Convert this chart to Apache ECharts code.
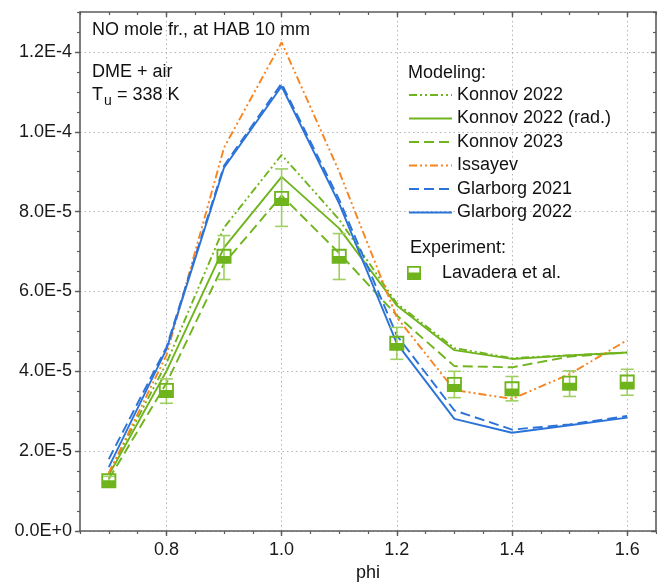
<!DOCTYPE html>
<html>
<head>
<meta charset="utf-8">
<script src="https://cdn.jsdelivr.net/npm/echarts@6/dist/echarts.min.js"></script>
<style>
html,body{margin:0;padding:0;background:#fff;}
#chart{width:657px;height:587px;}
</style>
</head>
<body>
<div id="chart"></div>
<script>
// ---- data ----
const phi = [0.7, 0.8, 0.9, 1.0, 1.1, 1.2, 1.3, 1.4, 1.5, 1.6];
const konnov2022    = [1.45e-5, 4.2e-5, 7.6e-5, 9.42e-5, 7.8e-5, 5.7e-5, 4.58e-5, 4.33e-5, 4.4e-5, 4.47e-5];
const konnov2022rad = [1.4e-5, 4.0e-5, 7.1e-5, 8.87e-5, 7.58e-5, 5.65e-5, 4.53e-5, 4.31e-5, 4.4e-5, 4.47e-5];
const konnov2023    = [1.3e-5, 3.7e-5, 6.7e-5, 8.4e-5, 6.96e-5, 5.4e-5, 4.13e-5, 4.1e-5, 4.37e-5, 4.47e-5];
const issayev       = [1.45e-5, 4.4e-5, 9.6e-5, 1.224e-4, 9.0e-5, 5.35e-5, 3.53e-5, 3.31e-5, 3.93e-5, 4.78e-5];
const glarborg2021  = [1.8e-5, 4.6e-5, 9.15e-5, 1.121e-4, 8.3e-5, 4.9e-5, 3.02e-5, 2.54e-5, 2.67e-5, 2.88e-5];
const glarborg2022  = [1.6e-5, 4.55e-5, 9.1e-5, 1.114e-4, 8.2e-5, 4.7e-5, 2.81e-5, 2.46e-5, 2.65e-5, 2.84e-5];
const expValue = [1.26e-5, 3.52e-5, 6.88e-5, 8.33e-5, 6.88e-5, 4.7e-5, 3.67e-5, 3.56e-5, 3.7e-5, 3.73e-5];
const expLow   = [1.15e-5, 3.2e-5, 6.3e-5, 7.63e-5, 6.3e-5, 4.3e-5, 3.34e-5, 3.26e-5, 3.37e-5, 3.4e-5];
const expHigh  = [1.37e-5, 3.81e-5, 7.4e-5, 9.07e-5, 7.45e-5, 5.1e-5, 4.0e-5, 3.87e-5, 4.01e-5, 4.05e-5];
const xTicks = [0.8, 1.0, 1.2, 1.4, 1.6];
const yTicks = [0, 2e-5, 4e-5, 6e-5, 8e-5, 1.0e-4, 1.2e-4];

// ---- style ----
const FONT = '"Liberation Sans", Arial, sans-serif';
const GREEN = '#6fb41c', ORANGE = '#f7841f', BLUE = '#2b73d8';
const AXIS = '#5c5c5c';
const dashDotDot = [8, 3, 2, 3, 2, 3];
const dashed = [10, 5];
const markerPath = 'path://M0,0H14V14H0Z M1.7,1.7V6.6H12.3V1.7Z';

const zip = arr => phi.map((p, i) => [p, arr[i]]);

function lineSeries(name, data, color, type) {
  return {
    name, type: 'line', data: zip(data), symbol: 'none', z: 3,
    lineStyle: { color, width: 1.9, type },
    itemStyle: { color }
  };
}

const chart = echarts.init(document.getElementById('chart'), null, { renderer: 'canvas' });
const baseX = { type: 'value', min: 0.65, max: 1.65, gridIndex: 0 };
const baseY = { type: 'value', min: 0, max: 1.3e-4, gridIndex: 0 };

chart.setOption({
  animation: false,
  backgroundColor: '#fff',
  grid: { left: 80, right: 1, top: 12, bottom: 52, containLabel: false },
  xAxis: [
    Object.assign({}, baseX, {
      position: 'bottom',
      name: 'phi', nameLocation: 'middle', nameGap: 33,
      nameTextStyle: { fontFamily: FONT, fontSize: 18, color: '#111' },
      axisLine: { show: true, onZero: false, lineStyle: { color: AXIS, width: 1.6 } },
      axisTick: { show: true, customValues: xTicks, length: 5, lineStyle: { color: AXIS, width: 1.4 } },
      axisLabel: { show: true, customValues: xTicks, margin: 10, fontFamily: FONT, fontSize: 18, color: '#1a1a1a',
                   formatter: v => v.toFixed(1) },
      splitLine: { show: true, lineStyle: { color: '#b5b5b5', width: 1, type: [1.5, 3] } }
    }),
    Object.assign({}, baseX, {
      position: 'bottom', interval: 0.05,
      axisLine: { show: false, onZero: false },
      axisTick: { show: true, length: 3, lineStyle: { color: AXIS, width: 1.2 } },
      axisLabel: { show: false }, splitLine: { show: false }
    }),
    Object.assign({}, baseX, {
      position: 'top',
      axisLine: { show: true, onZero: false, lineStyle: { color: AXIS, width: 1.6 } },
      axisTick: { show: true, inside: true, customValues: xTicks, length: 5, lineStyle: { color: AXIS, width: 1.4 } },
      axisLabel: { show: false }, splitLine: { show: false }
    }),
    Object.assign({}, baseX, {
      position: 'top', interval: 0.05,
      axisLine: { show: false, onZero: false },
      axisTick: { show: true, inside: true, length: 3, lineStyle: { color: AXIS, width: 1.2 } },
      axisLabel: { show: false }, splitLine: { show: false }
    })
  ],
  yAxis: [
    Object.assign({}, baseY, {
      position: 'left', interval: 2e-5,
      axisLine: { show: true, onZero: false, lineStyle: { color: AXIS, width: 1.6 } },
      axisTick: { show: true, customValues: yTicks, length: 5, lineStyle: { color: AXIS, width: 1.4 } },
      axisLabel: { show: true, customValues: yTicks, margin: 8, fontFamily: FONT, fontSize: 18, color: '#1a1a1a',
                   formatter: v => v.toExponential(1).toUpperCase() },
      splitLine: { show: true, lineStyle: { color: '#b5b5b5', width: 1, type: [1.5, 3] } }
    }),
    Object.assign({}, baseY, {
      position: 'left', interval: 5e-6,
      axisLine: { show: false, onZero: false },
      axisTick: { show: true, length: 3, lineStyle: { color: AXIS, width: 1.2 } },
      axisLabel: { show: false }, splitLine: { show: false }
    }),
    Object.assign({}, baseY, {
      position: 'right',
      axisLine: { show: true, onZero: false, lineStyle: { color: AXIS, width: 1.6 } },
      axisTick: { show: true, inside: true, customValues: yTicks, length: 5, lineStyle: { color: AXIS, width: 1.4 } },
      axisLabel: { show: false }, splitLine: { show: false }
    }),
    Object.assign({}, baseY, {
      position: 'right', interval: 5e-6,
      axisLine: { show: false, onZero: false },
      axisTick: { show: true, inside: true, length: 3, lineStyle: { color: AXIS, width: 1.2 } },
      axisLabel: { show: false }, splitLine: { show: false }
    })
  ],
  legend: [
    {
      orient: 'vertical', left: 408, top: 86, padding: 0,
      itemWidth: 43, itemHeight: 14, itemGap: 5.5,
      itemStyle: { opacity: 0, borderWidth: 0 },
      lineStyle: { width: 2 },
      textStyle: { fontFamily: FONT, fontSize: 18, color: '#111' },
      data: ['Konnov 2022', 'Konnov 2022 (rad.)', 'Konnov 2023', 'Issayev', 'Glarborg 2021', 'Glarborg 2022'],
      selectedMode: false
    },
    {
      orient: 'vertical', left: 407, top: 264, padding: 0,
      itemWidth: 46, itemHeight: 14,
      textStyle: { fontFamily: FONT, fontSize: 18, color: '#111' },
      data: [{ name: 'Lavadera et al.', icon: markerPath }],
      selectedMode: false
    }
  ],
  graphic: [
    { type: 'text', x: 92, y: 30, style: { text: 'NO mole fr., at HAB 10 mm', font: '18px ' + FONT, fill: '#111', verticalAlign: 'middle' } },
    { type: 'text', x: 92, y: 72, style: { text: 'DME + air', font: '18px ' + FONT, fill: '#111', verticalAlign: 'middle' } },
    { type: 'text', x: 92, y: 95, style: { text: 'T', font: '18px ' + FONT, fill: '#111', verticalAlign: 'middle' } },
    { type: 'text', x: 104, y: 101, style: { text: 'u', font: '14px ' + FONT, fill: '#111', verticalAlign: 'middle' } },
    { type: 'text', x: 117, y: 95, style: { text: '= 338 K', font: '18px ' + FONT, fill: '#111', verticalAlign: 'middle' } },
    { type: 'text', x: 408, y: 73, style: { text: 'Modeling:', font: '18px ' + FONT, fill: '#111', verticalAlign: 'middle' } },
    { type: 'text', x: 410, y: 248, style: { text: 'Experiment:', font: '18px ' + FONT, fill: '#111', verticalAlign: 'middle' } }
  ],
  series: [
    lineSeries('Konnov 2022', konnov2022, GREEN, dashDotDot),
    lineSeries('Konnov 2022 (rad.)', konnov2022rad, GREEN, 'solid'),
    lineSeries('Konnov 2023', konnov2023, GREEN, dashed),
    lineSeries('Issayev', issayev, ORANGE, dashDotDot),
    lineSeries('Glarborg 2021', glarborg2021, BLUE, dashed),
    lineSeries('Glarborg 2022', glarborg2022, BLUE, 'solid'),
    {
      name: 'errorbars', type: 'custom', z: 4,
      data: phi.map((p, i) => [p, expLow[i], expHigh[i]]),
      renderItem: function (params, api) {
        const lo = api.coord([api.value(0), api.value(1)]);
        const hi = api.coord([api.value(0), api.value(2)]);
        const w = 6.5;
        const st = { stroke: '#9fcf62', lineWidth: 1.6 };
        return {
          type: 'group',
          children: [
            { type: 'line', shape: { x1: lo[0], y1: lo[1], x2: hi[0], y2: hi[1] }, style: st },
            { type: 'line', shape: { x1: lo[0] - w, y1: lo[1], x2: lo[0] + w, y2: lo[1] }, style: st },
            { type: 'line', shape: { x1: hi[0] - w, y1: hi[1], x2: hi[0] + w, y2: hi[1] }, style: st }
          ]
        };
      }
    },
    {
      name: 'Lavadera et al.', type: 'scatter', z: 5,
      data: zip(expValue),
      symbol: markerPath, symbolSize: 15,
      itemStyle: { color: GREEN, opacity: 1 }
    }
  ]
});
</script>
</body>
</html>
